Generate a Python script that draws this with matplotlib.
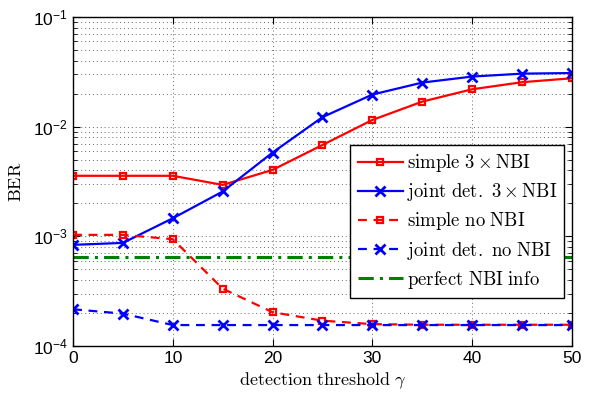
import matplotlib
matplotlib.use("Agg")
import matplotlib.pyplot as plt
import numpy as np
from matplotlib.ticker import LogLocator, NullFormatter

plt.rcParams['font.family'] = ['Liberation Sans', 'DejaVu Sans']
plt.rcParams['mathtext.fontset'] = 'cm'

gamma = [0, 5, 10, 15, 20, 25, 30, 35, 40, 45, 50]
simple_3nbi = [3.56e-3, 3.56e-3, 3.56e-3, 2.94e-3, 4.03e-3, 6.8e-3, 1.15e-2, 1.69e-2, 2.19e-2, 2.54e-2, 2.76e-2]
joint_3nbi = [8.35e-4, 8.7e-4, 1.46e-3, 2.56e-3, 5.8e-3, 1.22e-2, 1.96e-2, 2.52e-2, 2.86e-2, 3.04e-2, 3.08e-2]
simple_nonbi = [1.03e-3, 1.03e-3, 9.4e-4, 3.33e-4, 2.03e-4, 1.7e-4, 1.58e-4, 1.56e-4, 1.56e-4, 1.56e-4, 1.56e-4]
joint_nonbi = [2.16e-4, 1.97e-4, 1.55e-4, 1.55e-4, 1.55e-4, 1.55e-4, 1.55e-4, 1.55e-4, 1.55e-4, 1.55e-4, 1.55e-4]
perfect_nbi = [6.53e-4] * len(gamma)

labels = [r'$\mathrm{simple}\ 3\times\mathrm{NBI}$',
          r'$\mathrm{joint\ det.}\ 3\times\mathrm{NBI}$',
          r'$\mathrm{simple\ no\ NBI}$',
          r'$\mathrm{joint\ det.\ no\ NBI}$',
          r'$\mathrm{perfect\ NBI\ info}$']

fig = plt.figure(figsize=(5.89, 3.94), dpi=100)
ax = fig.add_axes([0.124, 0.122, 0.847, 0.835])

lw = 1.6
ax.semilogy(gamma, simple_3nbi, '-', color='red', lw=lw, marker='s', ms=5, mfc='none', mew=1.6, label=labels[0])
ax.semilogy(gamma, joint_3nbi, '-', color='blue', lw=lw, marker='x', ms=7, mew=2, label=labels[1])
ax.semilogy(gamma, simple_nonbi, '--', color='red', lw=lw, marker='s', ms=5, mfc='none', mew=1.6, label=labels[2], dashes=(4, 3))
ax.semilogy(gamma, joint_nonbi, '--', color='blue', lw=lw, marker='x', ms=7, mew=2, label=labels[3], dashes=(4, 3))
ax.semilogy(gamma, perfect_nbi, '-.', color='green', lw=2.2, label=labels[4], dashes=(5, 2, 1, 2))

ax.set_xlim(0, 50)
ax.set_ylim(1e-4, 1e-1)
ax.set_xticks([0, 10, 20, 30, 40, 50])
ax.yaxis.set_major_locator(LogLocator(base=10, numticks=10))
ax.yaxis.set_minor_locator(LogLocator(base=10, subs=np.arange(2, 10), numticks=10))
ax.yaxis.set_minor_formatter(NullFormatter())

ax.grid(True, which='major', linestyle=(0, (1, 3)), color='#666666', lw=0.7)
ax.grid(True, which='minor', axis='y', linestyle=(0, (1, 3)), color='#666666', lw=0.7)

ax.tick_params(which='both', direction='in', top=True, right=True, labelsize=12.5)
ax.tick_params(which='major', length=5)
ax.tick_params(which='minor', length=3)
for s in ax.spines.values():
    s.set_linewidth(1.0)

ax.set_xlabel(r'$\mathrm{detection\ threshold}\ \gamma$', fontsize=13, labelpad=3)
ax.set_ylabel(r'$\mathrm{BER}$', fontsize=13, labelpad=6)

leg = ax.legend(loc='lower right', bbox_to_anchor=(0.985, 0.145), fontsize=13.5,
                fancybox=False, edgecolor='black', framealpha=1, handlelength=2.4,
                handletextpad=0.2, borderpad=0.4, labelspacing=0.38, borderaxespad=0)
leg.get_frame().set_linewidth(1.0)

fig.savefig('out.png', dpi=100)
